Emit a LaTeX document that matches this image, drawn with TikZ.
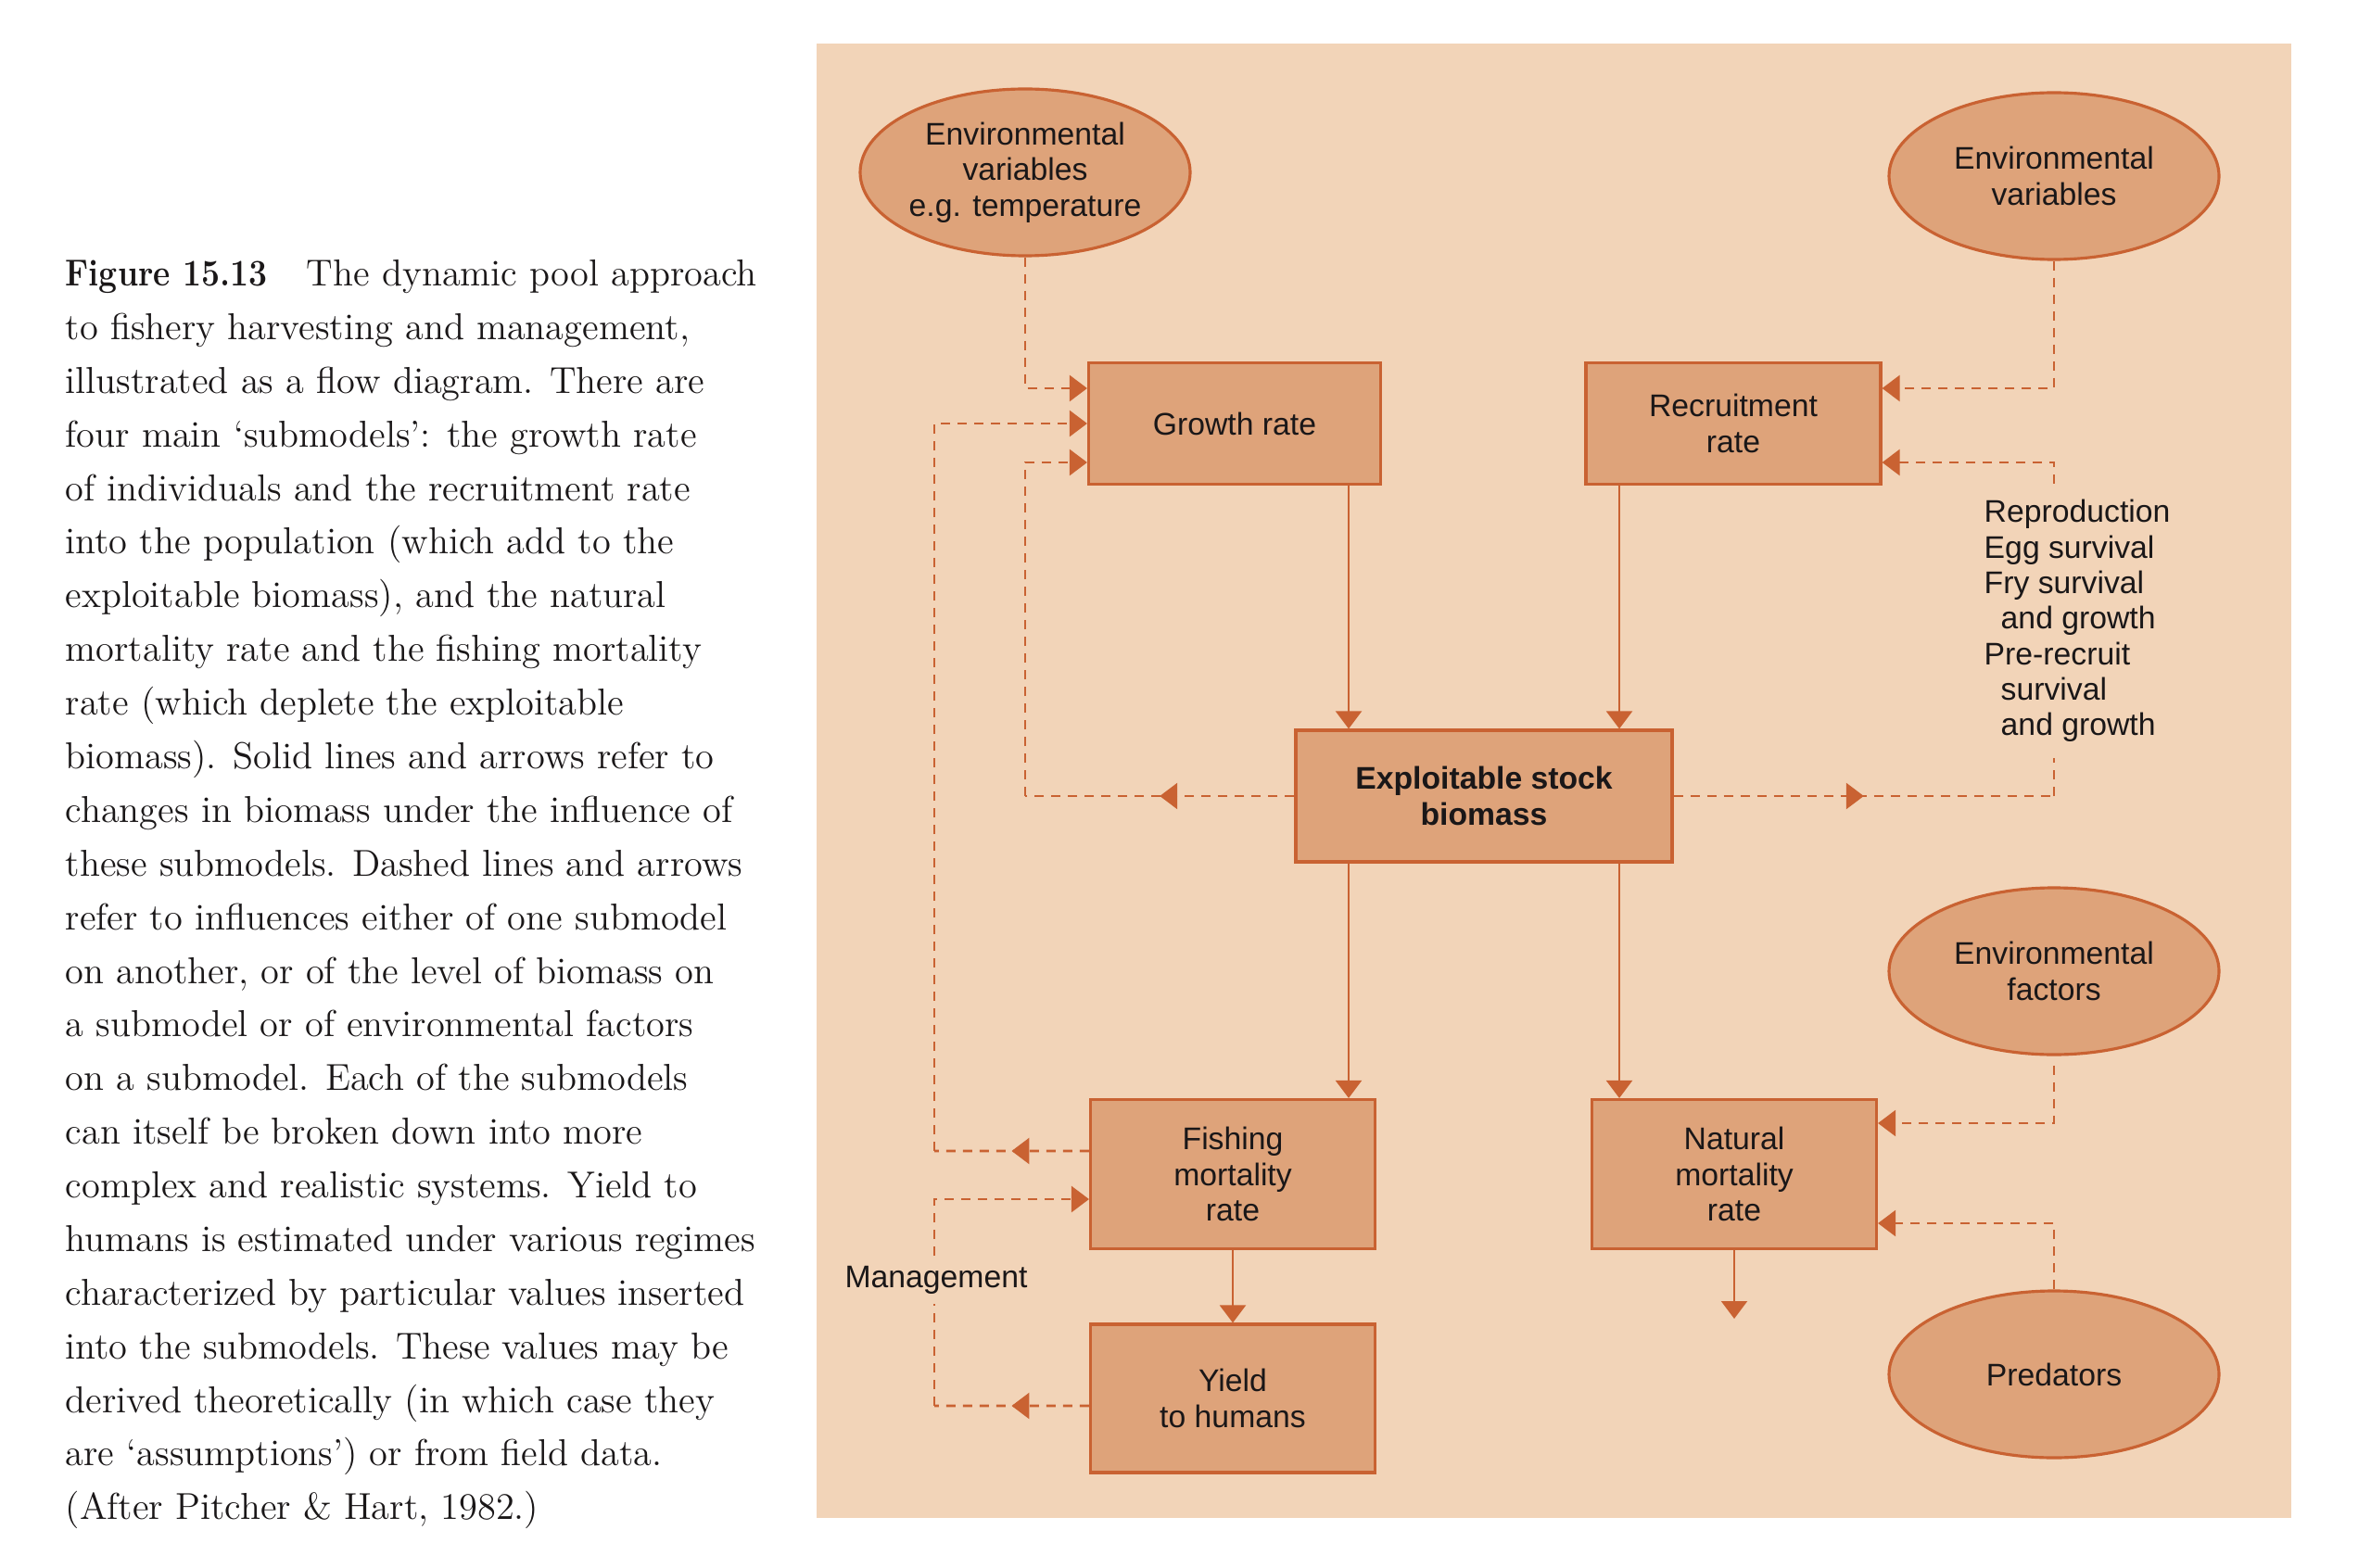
\documentclass[tikz,border=0pt]{standalone}
\usepackage{fontspec}
\newfontfamily\diagfont{Liberation Sans}
\usetikzlibrary{arrows.meta,shapes.geometric,decorations.markings}
\definecolor{panelbg}{HTML}{F2D4B8}
\definecolor{boxfill}{HTML}{DEA37A}
\definecolor{rust}{HTML}{C96232}
\definecolor{ink}{HTML}{1A1718}
\begin{document}
\begin{tikzpicture}[
    txt/.style={font=\diagfont\fontsize{9.6}{10.9}\selectfont, text=ink},
    box/.style={txt, rectangle, draw=rust, fill=boxfill, line width=0.9pt, align=center, inner sep=0pt},
    envell/.style={txt, ellipse, draw=rust, fill=boxfill, line width=0.9pt, align=center, inner sep=0pt,
        minimum width=3.56cm, minimum height=1.80cm},
    flow/.style={draw=rust, line width=0.65pt, -{Triangle[length=1.9mm,width=2.8mm]}},
    infl/.style={draw=rust, line width=0.75pt, dash pattern=on 1.0mm off 0.8mm},
    tipped/.style={-{Triangle[length=1.9mm,width=2.8mm]}},
    midarrow/.style={postaction={decorate}, decoration={markings,
        mark=at position 0.5 with {\arrow{Triangle[length=1.9mm,width=2.8mm]}}}}
]
    \useasboundingbox (0,0) rectangle (25.58,-16.92);
    \fill[panelbg] (8.81,-0.47) rectangle (24.72,-16.38);

    % caption
    \node[anchor=base west, inner sep=0pt, text=ink] (caption) at (0.70,-3.085) {\parbox[t]{9.6cm}{%
        \fontsize{11.5}{16.47}\selectfont\raggedright
        \scalebox{0.88}[1]{\textbf{Figure 15.13}}\hspace{1.05em}The dynamic pool approach\\
        to fishery harvesting and management,\\
        illustrated as a flow diagram. There are\\
        four main ‘submodels’: the growth rate\\
        of individuals and the recruitment rate\\
        into the population (which add to the\\
        exploitable biomass), and the natural\\
        mortality rate and the fishing mortality\\
        rate (which deplete the exploitable\\
        biomass). Solid lines and arrows refer to\\
        changes in biomass under the influence of\\
        these submodels. Dashed lines and arrows\\
        refer to influences either of one submodel\\
        on another, or of the level of biomass on\\
        a submodel or of environmental factors\\
        on a submodel. Each of the submodels\\
        can itself be broken down into more\\
        complex and realistic systems. Yield to\\
        humans is estimated under various regimes\\
        characterized by particular values inserted\\
        into the submodels. These values may be\\
        derived theoretically (in which case they\\
        are ‘assumptions’) or from field data.\\
        (After Pitcher \& Hart, 1982.)}};

    % outside influences
    \node[envell] (envtemp) at (11.06,-1.86) {Environmental\\variables\\e.g. temperature};
    \node[envell] (envrec) at (22.16,-1.90) {Environmental\\variables};
    \node[envell] (envfac) at (22.16,-10.48) {Environmental\\factors};
    \node[envell] (pred) at (22.16,-14.83) {Predators};

    % submodels
    \node[box, minimum width=3.15cm, minimum height=1.31cm] (growth) at (13.32,-4.57) {Growth rate};
    \node[box, minimum width=3.18cm, minimum height=1.31cm] (recruit) at (18.70,-4.57) {Recruitment\\rate};
    \node[box, minimum width=4.06cm, minimum height=1.42cm,
        font=\diagfont\bfseries\fontsize{9.6}{10.9}\selectfont] (stock) at (16.01,-8.59) {Exploitable stock\\biomass};
    \node[box, minimum width=3.07cm, minimum height=1.61cm] (fishing) at (13.30,-12.67) {Fishing\\mortality\\rate};
    \node[box, minimum width=3.07cm, minimum height=1.60cm] (yield) at (13.30,-15.09) {Yield\\to humans};
    \node[box, minimum width=3.07cm, minimum height=1.61cm] (natural) at (18.71,-12.67) {Natural\\mortality\\rate};

    \node[txt, align=left, anchor=west, inner xsep=0pt, inner ysep=1.7mm] (repro) at (21.40,-6.70)
        {Reproduction\\Egg survival\\Fry survival\\\hspace*{1.8mm}and growth\\Pre-recruit\\\hspace*{1.8mm}survival\\\hspace*{1.8mm}and growth};
    \node[txt, inner xsep=0pt, inner ysep=1mm] (mgmt) at (10.10,-13.81) {Management};

    \coordinate (lx) at (14.55,0);
    \coordinate (rx) at (17.47,0);
    \coordinate (natout) at (18.71,-14.23);
    \coordinate (loopA) at (10.08,-12.42);
    \coordinate (loopB) at (11.06,-8.59);
    \coordinate (loopC) at (22.16,-8.59);
    \coordinate (loopD) at (10.08,-15.17);

    % biomass flows
    \draw[flow] (growth.south -| lx) -- (stock.north -| lx);
    \draw[flow] (recruit.south -| rx) -- (stock.north -| rx);
    \draw[flow] (stock.south -| lx) -- (fishing.north -| lx);
    \draw[flow] (stock.south -| rx) -- (natural.north -| rx);
    \draw[flow] (fishing) -- (yield);
    \draw[flow] (natural) -- (natout);

    % influences
    \draw[infl, tipped] (envtemp.south) |- ([yshift=3.8mm]growth.west);
    \draw[infl, midarrow] ([yshift=2.5mm]fishing.west) -- (loopA);
    \draw[infl, tipped] (loopA) |- (growth.west);
    \draw[infl, midarrow] (stock.west) -- (loopB);
    \draw[infl, tipped] (loopB) |- ([yshift=-4.2mm]growth.west);
    \draw[infl, midarrow] (stock.east) -- (loopC);
    \draw[infl] (loopC) -- (repro.south -| loopC);
    \draw[infl, tipped] (repro.north -| loopC) |- ([yshift=-4.2mm]recruit.east);
    \draw[infl, tipped] (envrec.south) |- ([yshift=3.8mm]recruit.east);
    \draw[infl, tipped, shorten <=1mm] (envfac.south) |- ([yshift=5.5mm]natural.east);
    \draw[infl, tipped] (pred.north) |- ([yshift=-5.3mm]natural.east);
    \draw[infl, midarrow] ([yshift=-0.8mm]yield.west) -- (loopD);
    \draw[infl] (loopD) -- (mgmt.south -| loopD);
    \draw[infl, tipped] (mgmt.north -| loopD) |- ([yshift=-2.7mm]fishing.west);
\end{tikzpicture}
\end{document}
